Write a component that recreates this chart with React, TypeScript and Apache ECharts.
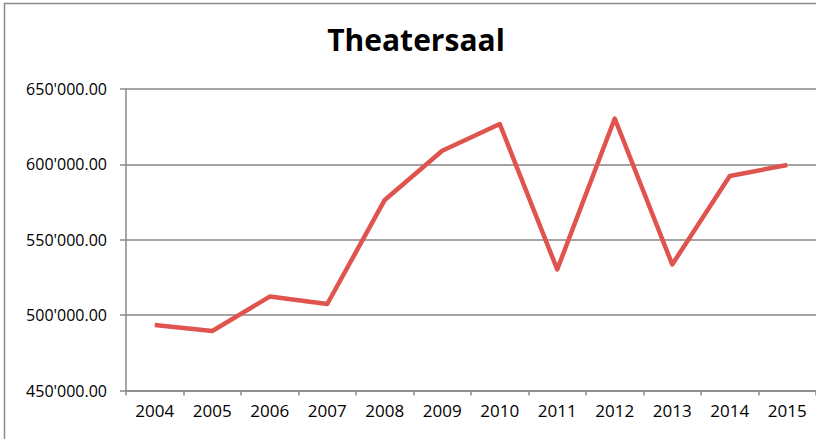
import React, { useEffect, useRef } from "react";
import * as echarts from "echarts";

const categories = ["2004", "2005", "2006", "2007", "2008", "2009", "2010", "2011", "2012", "2013", "2014", "2015"];
const values = [493500, 489500, 512300, 507400, 576400, 609000, 626800, 530300, 630400, 533600, 592300, 599600];
const titleText = "Theatersaal";

function fmt(v: number): string {
  const s = Math.round(v).toString();
  const withSep = s.replace(/\B(?=(\d{3})+(?!\d))/g, "'");
  return withSep + ".00";
}

export default function App() {
  const ref = useRef<HTMLDivElement>(null);
  useEffect(() => {
    if (!ref.current) return;
    const chart = echarts.init(ref.current, null, { renderer: "svg" });
    const font = "Open Sans, Noto Sans, sans-serif";
    chart.setOption({
      animation: false,
      backgroundColor: "#ffffff",
      title: {
        text: titleText,
        left: 411,
        top: 19,
        textAlign: "center",
        textStyle: { fontFamily: font, fontSize: 30, fontWeight: "bold", color: "#000" },
      },
      graphic: [
        {
          type: "rect",
          shape: { x: 4.5, y: 3.5, width: 900, height: 600 },
          style: { fill: "none", stroke: "#8a8a8a", lineWidth: 1.5 },
          silent: true,
        },
      ],
      grid: { left: 126, right: -4, top: 89, bottom: 48.5, containLabel: false },
      xAxis: {
        type: "category",
        data: categories,
        boundaryGap: true,
        axisLine: { lineStyle: { color: "#8a8a8a", width: 1.5 } },
        axisTick: { show: true, length: 5, lineStyle: { color: "#8a8a8a", width: 1.5 } },
        axisLabel: { color: "#000", fontFamily: font, fontSize: 17, margin: 11 },
        splitLine: { show: false },
      },
      yAxis: {
        type: "value",
        min: 450000,
        max: 650000,
        interval: 50000,
        axisLine: { show: true, lineStyle: { color: "#8a8a8a", width: 1.5 } },
        axisTick: { show: true, length: 6, lineStyle: { color: "#8a8a8a", width: 1.5 } },
        axisLabel: { color: "#000", fontFamily: font, fontSize: 16, margin: 19, formatter: (v: number) => fmt(v) },
        splitLine: { show: true, lineStyle: { color: "#868686", width: 1.5 } },
      },
      series: [
        {
          type: "line",
          data: values,
          showSymbol: false,
          symbol: "none",
          lineStyle: { color: "#E0544F", width: 4.5, join: "round" },
          itemStyle: { color: "#E0544F" },
        },
      ],
    });
    return () => chart.dispose();
  }, []);
  return <div ref={ref} style={{ position: "fixed", left: 0, top: 0, width: 816, height: 439 }} />;
}
